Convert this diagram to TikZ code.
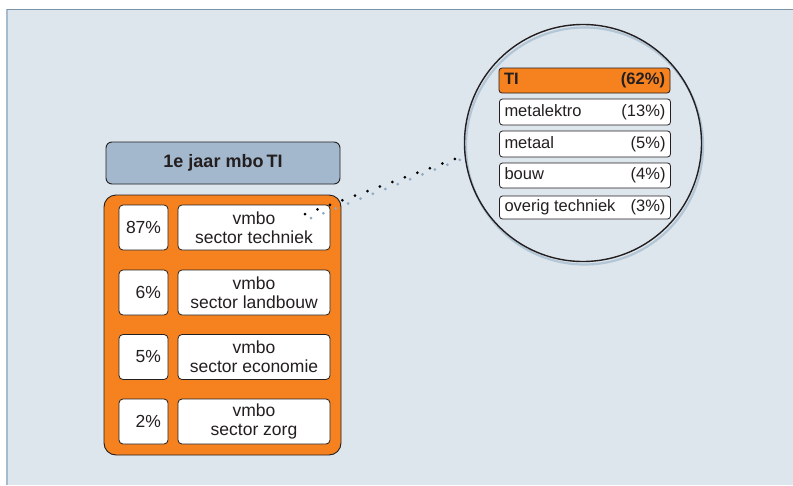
\documentclass[tikz,border=0pt]{standalone}
\usepackage{fontspec}
\setmainfont{Liberation Sans}
\definecolor{panelbg}{HTML}{DDE5ED}
\definecolor{paneltop}{HTML}{7A93A8}
\definecolor{panelleft}{HTML}{A7BBCF}
\definecolor{orng}{HTML}{F5821F}
\definecolor{hdr}{HTML}{A3B8CC}
\definecolor{ink}{HTML}{231F20}
\definecolor{shadowblue}{HTML}{B3C6D6}
\definecolor{dotblue}{HTML}{8FA9C2}
\tikzset{
  bigfont/.style={font=\fontsize{17.5pt}{19pt}\selectfont},
  smallfont/.style={font=\fontsize{16.5pt}{19pt}\selectfont},
  headerbox/.style={draw=ink, line width=0.9pt, fill=hdr, rounded corners=6pt,
    minimum width=234pt, minimum height=42pt, inner sep=0pt, text=ink,
    font=\fontsize{18pt}{19pt}\selectfont\bfseries},
  orangebox/.style={draw=ink, line width=0.9pt, fill=orng, rounded corners=12pt,
    minimum width=237pt, minimum height=260pt, inner sep=0pt},
  pctbox/.style={draw=ink, line width=0.8pt, fill=white, rounded corners=4pt,
    minimum width=49pt, minimum height=45pt, inner xsep=7pt, inner ysep=0pt,
    text width=35pt, align=right, text=ink, bigfont},
  sectorbox/.style={draw=ink, line width=0.8pt, fill=white, rounded corners=4pt,
    minimum width=152pt, minimum height=45pt, inner sep=0pt,
    align=center, text=ink, bigfont},
  rowbox/.style={draw=ink, line width=0.8pt, fill=white, rounded corners=3pt,
    minimum width=171pt, inner xsep=5pt, inner ysep=0pt, text=ink, smallfont},
  lens/.style={circle, draw=ink, line width=1.4pt, minimum size=237pt, inner sep=0pt},
  lensshade/.style={circle, draw=shadowblue, line width=2.2pt, minimum size=237pt, inner sep=0pt},
  blackdots/.style={draw=black, line width=3pt, line cap=round, dash pattern=on 0pt off 13.3pt},
  bluedots/.style={draw=dotblue, line width=3pt, line cap=round, dash pattern=on 0pt off 13.3pt}
}
\begin{document}
\begin{tikzpicture}[x=1pt,y=-1pt]
\useasboundingbox (0,0) rectangle (793,485);
\fill[white] (0,0) rectangle (793,485);
% panel
\fill[panelbg] (7,9) rectangle (793,485);
\draw[panelleft, line width=2pt] (7,9) -- (7,485);
\draw[paneltop, line width=1pt] (7,9) -- (793,9);

% left part
\node[headerbox] (hdr) at (223,163) {1e jaar mbo\,TI};
\node[orangebox] (obox) at (222.5,325) {};

\node[pctbox] (p1) at (143.5,227.5) {87\%};
\node[pctbox] (p2) at (143.5,292.5) {6\%};
\node[pctbox] (p3) at (143.5,357) {5\%};
\node[pctbox] (p4) at (143.5,421.5) {2\%};

\node[sectorbox] (s1) at (254,227.5) {vmbo\\sector techniek};
\node[sectorbox] (s2) at (254,292.5) {vmbo\\sector landbouw};
\node[sectorbox] (s3) at (254,357) {vmbo\\sector economie};
\node[sectorbox] (s4) at (254,421.5) {vmbo\\sector zorg};

% magnifier
\node[lensshade] (lensshadow) at (584.5,146) {};
\node[lens] (lens) at (583,143) {};

\node[rowbox, fill=orng, minimum height=25pt, font=\fontsize{16.5pt}{19pt}\selectfont\bfseries] (r0) at (584.5,80.5)
  {\makebox[161pt]{TI\hfill(62\%)}};
\node[rowbox, minimum height=26pt] (r1) at (585,112) {\makebox[161pt]{metalektro\hfill(13\%)}};
\node[rowbox, minimum height=26pt] (r2) at (585,144) {\makebox[161pt]{metaal\hfill(5\%)}};
\node[rowbox, minimum height=25pt] (r3) at (585,175.5) {\makebox[161pt]{bouw\hfill(4\%)}};
\node[rowbox, minimum height=23pt] (r4) at (585,207.5) {\makebox[161pt]{overig techniek\hfill(3\%)}};

% dotted connector
\coordinate (dotA) at (305,214);
\coordinate (dotA2) at (311,218);
\coordinate (dotB) at (lens.186);
\coordinate (dotB2) at ([shift={(4,1)}]lens.186);
\draw[bluedots] (dotA2) -- (dotB2);
\draw[blackdots] (dotA) -- (dotB);
\end{tikzpicture}
\end{document}
